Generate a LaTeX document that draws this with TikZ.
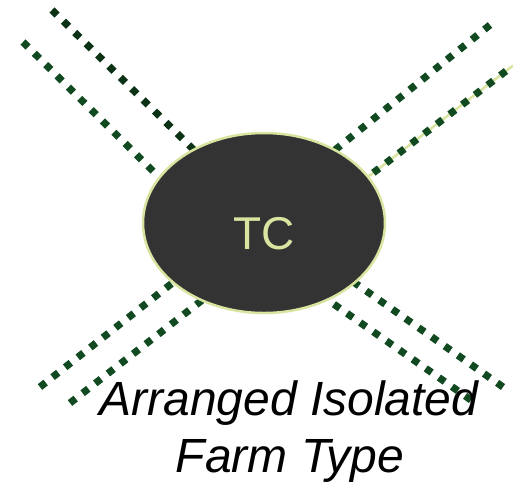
\documentclass[tikz,border=0pt]{standalone}
\usepackage{fontspec}
\setmainfont{Liberation Sans}
\usetikzlibrary{shapes.geometric}
\definecolor{rayA}{RGB}{12,50,22}
\definecolor{rayB}{RGB}{17,74,32}
\definecolor{pale}{RGB}{216,228,160}
\definecolor{core}{RGB}{51,51,51}
\begin{document}
\begin{tikzpicture}[x=1pt,y=-1pt,
  ray/.style={line width=7.2pt,dash pattern=on 7.2pt off 8.8pt,line cap=butt},
  hub/.style={ellipse,draw=pale,line width=2.5pt,fill=core,minimum width=242pt,minimum height=180pt,inner sep=0pt},
  caption/.style={font=\fontsize{48}{56}\selectfont\itshape,anchor=base,inner sep=0pt}]
  \useasboundingbox (0,0) rectangle (513,485);
  % outer ends of the rays
  \coordinate (a1) at (52,10);   \coordinate (a2) at (200,156);
  \coordinate (b1) at (23,42);   \coordinate (b2) at (170,188);
  \coordinate (c1) at (490,25);  \coordinate (c2) at (330,154);
  \coordinate (d1) at (506,71);  \coordinate (d2) at (360,183);
  \coordinate (d0) at (513,65.6);
  \coordinate (e1) at (40,387);  \coordinate (e2) at (180,277);
  \coordinate (f1) at (70,403);  \coordinate (f2) at (210,294);
  \coordinate (g1) at (503,387); \coordinate (g2) at (345,276);
  \coordinate (h1) at (471,400); \coordinate (h2) at (315,291);
  % rays
  \draw[pale,line width=2.5pt] (d0) -- (d2);
  \draw[ray,rayA] (a1) -- (a2);
  \draw[ray,rayB] (b1) -- (b2);
  \draw[ray,rayB] (c1) -- (c2);
  \draw[ray,rayB] (d1) -- (d2);
  \draw[ray,rayB] (e1) -- (e2);
  \draw[ray,rayB] (f1) -- (f2);
  \draw[ray,rayB] (g1) -- (g2);
  \draw[ray,rayB] (h1) -- (h2);
  % central node
  \node[hub] (tc) at (264,223) {};
  \node[font=\fontsize{46}{54}\selectfont,text=pale,anchor=base,inner sep=0pt] (tclabel) at (264,249) {TC};
  % caption
  \node[caption] (cap1) at (289,415) {Arranged Isolated};
  \node[caption] (cap2) at (290,472) {Farm Type};
\end{tikzpicture}
\end{document}
